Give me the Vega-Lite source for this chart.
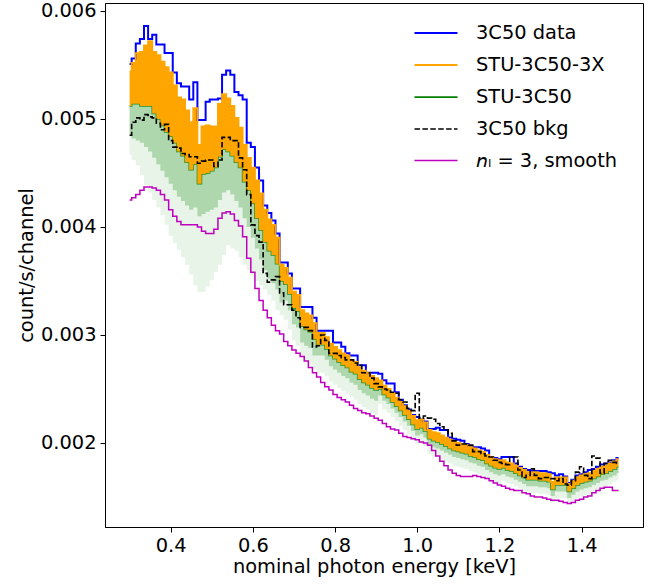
{
"$schema":"https://vega.github.io/schema/vega-lite/v6.json",
"width":538,"height":524,
"autosize":{"type":"none"},
"padding":{"left":105,"top":3,"right":14,"bottom":57},
"config":{"font":"DejaVu Sans","view":{"stroke":"#000000","strokeWidth":1},
"axis":{"labelFont":"DejaVu Sans","titleFont":"DejaVu Sans","labelFontSize":19.4,"titleFontSize":19.4,"labelColor":"#000","titleColor":"#000","titleFontWeight":"normal","tickColor":"#000","domainColor":"#000","tickSize":5,"labelPadding":4,"grid":false,"domainWidth":1,"tickWidth":1}},
"data":{"values":[
{"E":0.30,"data":0.00551,"stu3x_hi":0.00544,"stu3x_lo":0.00512,"stu_mid":0.00485,"stu_lo":0.00467,"bkg":0.00485,"smooth":0.00425},
{"E":0.31,"data":0.00556,"stu3x_hi":0.00552,"stu3x_lo":0.00514,"stu_mid":0.00482,"stu_lo":0.00462,"bkg":0.00497,"smooth":0.00427},
{"E":0.32,"data":0.00570,"stu3x_hi":0.00561,"stu3x_lo":0.00514,"stu_mid":0.00480,"stu_lo":0.00457,"bkg":0.00501,"smooth":0.00430},
{"E":0.33,"data":0.00574,"stu3x_hi":0.00562,"stu3x_lo":0.00512,"stu_mid":0.00478,"stu_lo":0.00448,"bkg":0.00499,"smooth":0.00434},
{"E":0.34,"data":0.00586,"stu3x_hi":0.00568,"stu3x_lo":0.00512,"stu_mid":0.00474,"stu_lo":0.00439,"bkg":0.00504,"smooth":0.00437},
{"E":0.35,"data":0.00574,"stu3x_hi":0.00572,"stu3x_lo":0.00512,"stu_mid":0.00470,"stu_lo":0.00432,"bkg":0.00502,"smooth":0.00437},
{"E":0.36,"data":0.00578,"stu3x_hi":0.00562,"stu3x_lo":0.00505,"stu_mid":0.00464,"stu_lo":0.00425,"bkg":0.00501,"smooth":0.00436},
{"E":0.37,"data":0.00569,"stu3x_hi":0.00559,"stu3x_lo":0.00500,"stu_mid":0.00458,"stu_lo":0.00418,"bkg":0.00496,"smooth":0.00434},
{"E":0.38,"data":0.00569,"stu3x_hi":0.00553,"stu3x_lo":0.00494,"stu_mid":0.00452,"stu_lo":0.00411,"bkg":0.00490,"smooth":0.00430},
{"E":0.39,"data":0.00561,"stu3x_hi":0.00548,"stu3x_lo":0.00488,"stu_mid":0.00446,"stu_lo":0.00402,"bkg":0.00495,"smooth":0.00425},
{"E":0.40,"data":0.00561,"stu3x_hi":0.00543,"stu3x_lo":0.00484,"stu_mid":0.00440,"stu_lo":0.00392,"bkg":0.00480,"smooth":0.00416},
{"E":0.41,"data":0.00543,"stu3x_hi":0.00531,"stu3x_lo":0.00478,"stu_mid":0.00434,"stu_lo":0.00385,"bkg":0.00474,"smooth":0.00410},
{"E":0.42,"data":0.00533,"stu3x_hi":0.00520,"stu3x_lo":0.00470,"stu_mid":0.00428,"stu_lo":0.00379,"bkg":0.00473,"smooth":0.00405},
{"E":0.43,"data":0.00530,"stu3x_hi":0.00518,"stu3x_lo":0.00466,"stu_mid":0.00424,"stu_lo":0.00372,"bkg":0.00468,"smooth":0.00402},
{"E":0.44,"data":0.00530,"stu3x_hi":0.00508,"stu3x_lo":0.00460,"stu_mid":0.00420,"stu_lo":0.00365,"bkg":0.00467,"smooth":0.00402},
{"E":0.45,"data":0.00518,"stu3x_hi":0.00497,"stu3x_lo":0.00453,"stu_mid":0.00416,"stu_lo":0.00356,"bkg":0.00465,"smooth":0.00402},
{"E":0.46,"data":0.00534,"stu3x_hi":0.00510,"stu3x_lo":0.00458,"stu_mid":0.00418,"stu_lo":0.00346,"bkg":0.00465,"smooth":0.00402},
{"E":0.47,"data":0.00499,"stu3x_hi":0.00476,"stu3x_lo":0.00440,"stu_mid":0.00410,"stu_lo":0.00340,"bkg":0.00459,"smooth":0.00400},
{"E":0.48,"data":0.00499,"stu3x_hi":0.00493,"stu3x_lo":0.00449,"stu_mid":0.00412,"stu_lo":0.00340,"bkg":0.00461,"smooth":0.00396},
{"E":0.49,"data":0.00516,"stu3x_hi":0.00494,"stu3x_lo":0.00450,"stu_mid":0.00414,"stu_lo":0.00345,"bkg":0.00462,"smooth":0.00394},
{"E":0.50,"data":0.00518,"stu3x_hi":0.00493,"stu3x_lo":0.00452,"stu_mid":0.00416,"stu_lo":0.00351,"bkg":0.00462,"smooth":0.00394},
{"E":0.51,"data":0.00518,"stu3x_hi":0.00493,"stu3x_lo":0.00455,"stu_mid":0.00418,"stu_lo":0.00358,"bkg":0.00456,"smooth":0.00398},
{"E":0.52,"data":0.00519,"stu3x_hi":0.00514,"stu3x_lo":0.00465,"stu_mid":0.00425,"stu_lo":0.00365,"bkg":0.00462,"smooth":0.00408},
{"E":0.53,"data":0.00541,"stu3x_hi":0.00523,"stu3x_lo":0.00472,"stu_mid":0.00432,"stu_lo":0.00374,"bkg":0.00483,"smooth":0.00413},
{"E":0.54,"data":0.00545,"stu3x_hi":0.00519,"stu3x_lo":0.00470,"stu_mid":0.00434,"stu_lo":0.00383,"bkg":0.00483,"smooth":0.00414},
{"E":0.55,"data":0.00541,"stu3x_hi":0.00512,"stu3x_lo":0.00466,"stu_mid":0.00430,"stu_lo":0.00380,"bkg":0.00480,"smooth":0.00412},
{"E":0.56,"data":0.00525,"stu3x_hi":0.00501,"stu3x_lo":0.00460,"stu_mid":0.00424,"stu_lo":0.00378,"bkg":0.00480,"smooth":0.00406},
{"E":0.57,"data":0.00522,"stu3x_hi":0.00492,"stu3x_lo":0.00455,"stu_mid":0.00418,"stu_lo":0.00372,"bkg":0.00464,"smooth":0.00401},
{"E":0.58,"data":0.00518,"stu3x_hi":0.00476,"stu3x_lo":0.00442,"stu_mid":0.00408,"stu_lo":0.00365,"bkg":0.00453,"smooth":0.00391},
{"E":0.59,"data":0.00478,"stu3x_hi":0.00464,"stu3x_lo":0.00434,"stu_mid":0.00400,"stu_lo":0.00360,"bkg":0.00430,"smooth":0.00371},
{"E":0.60,"data":0.00474,"stu3x_hi":0.00455,"stu3x_lo":0.00422,"stu_mid":0.00390,"stu_lo":0.00355,"bkg":0.00402,"smooth":0.00358},
{"E":0.61,"data":0.00455,"stu3x_hi":0.00443,"stu3x_lo":0.00408,"stu_mid":0.00380,"stu_lo":0.00350,"bkg":0.00392,"smooth":0.00343},
{"E":0.62,"data":0.00443,"stu3x_hi":0.00431,"stu3x_lo":0.00397,"stu_mid":0.00370,"stu_lo":0.00346,"bkg":0.00386,"smooth":0.00332},
{"E":0.63,"data":0.00420,"stu3x_hi":0.00416,"stu3x_lo":0.00386,"stu_mid":0.00360,"stu_lo":0.00342,"bkg":0.00357,"smooth":0.00323},
{"E":0.64,"data":0.00413,"stu3x_hi":0.00407,"stu3x_lo":0.00378,"stu_mid":0.00352,"stu_lo":0.00337,"bkg":0.00349,"smooth":0.00316},
{"E":0.65,"data":0.00406,"stu3x_hi":0.00402,"stu3x_lo":0.00374,"stu_mid":0.00348,"stu_lo":0.00332,"bkg":0.00351,"smooth":0.00309},
{"E":0.66,"data":0.00394,"stu3x_hi":0.00390,"stu3x_lo":0.00366,"stu_mid":0.00342,"stu_lo":0.00323,"bkg":0.00354,"smooth":0.00304},
{"E":0.67,"data":0.00367,"stu3x_hi":0.00365,"stu3x_lo":0.00350,"stu_mid":0.00330,"stu_lo":0.00318,"bkg":0.00339,"smooth":0.00301},
{"E":0.68,"data":0.00367,"stu3x_hi":0.00362,"stu3x_lo":0.00347,"stu_mid":0.00332,"stu_lo":0.00314,"bkg":0.00328,"smooth":0.00294},
{"E":0.69,"data":0.00357,"stu3x_hi":0.00353,"stu3x_lo":0.00338,"stu_mid":0.00323,"stu_lo":0.00305,"bkg":0.00328,"smooth":0.00290},
{"E":0.70,"data":0.00343,"stu3x_hi":0.00340,"stu3x_lo":0.00325,"stu_mid":0.00310,"stu_lo":0.00295,"bkg":0.00323,"smooth":0.00286},
{"E":0.71,"data":0.00343,"stu3x_hi":0.00337,"stu3x_lo":0.00322,"stu_mid":0.00307,"stu_lo":0.00290,"bkg":0.00316,"smooth":0.00283},
{"E":0.72,"data":0.00326,"stu3x_hi":0.00323,"stu3x_lo":0.00308,"stu_mid":0.00293,"stu_lo":0.00280,"bkg":0.00307,"smooth":0.00280},
{"E":0.73,"data":0.00326,"stu3x_hi":0.00320,"stu3x_lo":0.00305,"stu_mid":0.00290,"stu_lo":0.00276,"bkg":0.00307,"smooth":0.00276},
{"E":0.74,"data":0.00326,"stu3x_hi":0.00318,"stu3x_lo":0.00303,"stu_mid":0.00288,"stu_lo":0.00273,"bkg":0.00304,"smooth":0.00270},
{"E":0.75,"data":0.00316,"stu3x_hi":0.00311,"stu3x_lo":0.00296,"stu_mid":0.00281,"stu_lo":0.00268,"bkg":0.00289,"smooth":0.00265},
{"E":0.76,"data":0.00304,"stu3x_hi":0.00302,"stu3x_lo":0.00291,"stu_mid":0.00281,"stu_lo":0.00266,"bkg":0.00290,"smooth":0.00261},
{"E":0.77,"data":0.00304,"stu3x_hi":0.00302,"stu3x_lo":0.00291,"stu_mid":0.00281,"stu_lo":0.00265,"bkg":0.00300,"smooth":0.00256},
{"E":0.78,"data":0.00304,"stu3x_hi":0.00298,"stu3x_lo":0.00287,"stu_mid":0.00277,"stu_lo":0.00262,"bkg":0.00295,"smooth":0.00252},
{"E":0.79,"data":0.00304,"stu3x_hi":0.00292,"stu3x_lo":0.00281,"stu_mid":0.00271,"stu_lo":0.00257,"bkg":0.00283,"smooth":0.00249},
{"E":0.80,"data":0.00293,"stu3x_hi":0.00289,"stu3x_lo":0.00278,"stu_mid":0.00268,"stu_lo":0.00254,"bkg":0.00283,"smooth":0.00245},
{"E":0.81,"data":0.00293,"stu3x_hi":0.00286,"stu3x_lo":0.00275,"stu_mid":0.00265,"stu_lo":0.00251,"bkg":0.00281,"smooth":0.00242},
{"E":0.82,"data":0.00289,"stu3x_hi":0.00283,"stu3x_lo":0.00272,"stu_mid":0.00262,"stu_lo":0.00248,"bkg":0.00279,"smooth":0.00240},
{"E":0.83,"data":0.00283,"stu3x_hi":0.00281,"stu3x_lo":0.00270,"stu_mid":0.00260,"stu_lo":0.00246,"bkg":0.00277,"smooth":0.00238},
{"E":0.84,"data":0.00281,"stu3x_hi":0.00277,"stu3x_lo":0.00266,"stu_mid":0.00256,"stu_lo":0.00243,"bkg":0.00277,"smooth":0.00235},
{"E":0.85,"data":0.00281,"stu3x_hi":0.00275,"stu3x_lo":0.00264,"stu_mid":0.00254,"stu_lo":0.00240,"bkg":0.00274,"smooth":0.00232},
{"E":0.86,"data":0.00272,"stu3x_hi":0.00270,"stu3x_lo":0.00259,"stu_mid":0.00249,"stu_lo":0.00236,"bkg":0.00272,"smooth":0.00230},
{"E":0.87,"data":0.00272,"stu3x_hi":0.00267,"stu3x_lo":0.00256,"stu_mid":0.00246,"stu_lo":0.00233,"bkg":0.00265,"smooth":0.00228},
{"E":0.88,"data":0.00265,"stu3x_hi":0.00265,"stu3x_lo":0.00254,"stu_mid":0.00244,"stu_lo":0.00231,"bkg":0.00265,"smooth":0.00227},
{"E":0.89,"data":0.00265,"stu3x_hi":0.00262,"stu3x_lo":0.00251,"stu_mid":0.00241,"stu_lo":0.00228,"bkg":0.00260,"smooth":0.00225},
{"E":0.90,"data":0.00265,"stu3x_hi":0.00260,"stu3x_lo":0.00249,"stu_mid":0.00239,"stu_lo":0.00226,"bkg":0.00255,"smooth":0.00223},
{"E":0.91,"data":0.00264,"stu3x_hi":0.00258,"stu3x_lo":0.00250,"stu_mid":0.00244,"stu_lo":0.00236,"bkg":0.00252,"smooth":0.00221},
{"E":0.92,"data":0.00258,"stu3x_hi":0.00253,"stu3x_lo":0.00245,"stu_mid":0.00239,"stu_lo":0.00231,"bkg":0.00250,"smooth":0.00218},
{"E":0.93,"data":0.00255,"stu3x_hi":0.00250,"stu3x_lo":0.00242,"stu_mid":0.00236,"stu_lo":0.00228,"bkg":0.00249,"smooth":0.00215},
{"E":0.94,"data":0.00255,"stu3x_hi":0.00246,"stu3x_lo":0.00238,"stu_mid":0.00232,"stu_lo":0.00224,"bkg":0.00247,"smooth":0.00213},
{"E":0.95,"data":0.00247,"stu3x_hi":0.00242,"stu3x_lo":0.00234,"stu_mid":0.00228,"stu_lo":0.00220,"bkg":0.00246,"smooth":0.00212},
{"E":0.96,"data":0.00240,"stu3x_hi":0.00238,"stu3x_lo":0.00230,"stu_mid":0.00224,"stu_lo":0.00216,"bkg":0.00240,"smooth":0.00209},
{"E":0.97,"data":0.00235,"stu3x_hi":0.00234,"stu3x_lo":0.00226,"stu_mid":0.00220,"stu_lo":0.00212,"bkg":0.00238,"smooth":0.00206},
{"E":0.98,"data":0.00231,"stu3x_hi":0.00230,"stu3x_lo":0.00222,"stu_mid":0.00216,"stu_lo":0.00208,"bkg":0.00232,"smooth":0.00205},
{"E":0.99,"data":0.00226,"stu3x_hi":0.00225,"stu3x_lo":0.00217,"stu_mid":0.00211,"stu_lo":0.00203,"bkg":0.00230,"smooth":0.00204},
{"E":1.00,"data":0.00224,"stu3x_hi":0.00221,"stu3x_lo":0.00213,"stu_mid":0.00207,"stu_lo":0.00199,"bkg":0.00246,"smooth":0.00203},
{"E":1.01,"data":0.00222,"stu3x_hi":0.00222,"stu3x_lo":0.00214,"stu_mid":0.00208,"stu_lo":0.00200,"bkg":0.00223,"smooth":0.00201},
{"E":1.02,"data":0.00220,"stu3x_hi":0.00219,"stu3x_lo":0.00211,"stu_mid":0.00205,"stu_lo":0.00197,"bkg":0.00225,"smooth":0.00200},
{"E":1.03,"data":0.00213,"stu3x_hi":0.00212,"stu3x_lo":0.00204,"stu_mid":0.00198,"stu_lo":0.00190,"bkg":0.00223,"smooth":0.00198},
{"E":1.04,"data":0.00213,"stu3x_hi":0.00210,"stu3x_lo":0.00202,"stu_mid":0.00196,"stu_lo":0.00188,"bkg":0.00222,"smooth":0.00193},
{"E":1.05,"data":0.00214,"stu3x_hi":0.00209,"stu3x_lo":0.00201,"stu_mid":0.00195,"stu_lo":0.00187,"bkg":0.00218,"smooth":0.00188},
{"E":1.06,"data":0.00212,"stu3x_hi":0.00207,"stu3x_lo":0.00199,"stu_mid":0.00193,"stu_lo":0.00185,"bkg":0.00215,"smooth":0.00183},
{"E":1.07,"data":0.00212,"stu3x_hi":0.00205,"stu3x_lo":0.00197,"stu_mid":0.00191,"stu_lo":0.00183,"bkg":0.00212,"smooth":0.00179},
{"E":1.08,"data":0.00205,"stu3x_hi":0.00203,"stu3x_lo":0.00195,"stu_mid":0.00189,"stu_lo":0.00181,"bkg":0.00209,"smooth":0.00175},
{"E":1.09,"data":0.00204,"stu3x_hi":0.00201,"stu3x_lo":0.00193,"stu_mid":0.00187,"stu_lo":0.00179,"bkg":0.00202,"smooth":0.00172},
{"E":1.10,"data":0.00203,"stu3x_hi":0.00200,"stu3x_lo":0.00192,"stu_mid":0.00186,"stu_lo":0.00178,"bkg":0.00198,"smooth":0.00170},
{"E":1.11,"data":0.00202,"stu3x_hi":0.00199,"stu3x_lo":0.00191,"stu_mid":0.00185,"stu_lo":0.00177,"bkg":0.00199,"smooth":0.00169},
{"E":1.12,"data":0.00199,"stu3x_hi":0.00198,"stu3x_lo":0.00190,"stu_mid":0.00184,"stu_lo":0.00176,"bkg":0.00199,"smooth":0.00169},
{"E":1.13,"data":0.00197,"stu3x_hi":0.00196,"stu3x_lo":0.00188,"stu_mid":0.00182,"stu_lo":0.00174,"bkg":0.00198,"smooth":0.00169},
{"E":1.14,"data":0.00196,"stu3x_hi":0.00195,"stu3x_lo":0.00187,"stu_mid":0.00181,"stu_lo":0.00173,"bkg":0.00192,"smooth":0.00170},
{"E":1.15,"data":0.00196,"stu3x_hi":0.00193,"stu3x_lo":0.00185,"stu_mid":0.00179,"stu_lo":0.00171,"bkg":0.00192,"smooth":0.00169},
{"E":1.16,"data":0.00195,"stu3x_hi":0.00192,"stu3x_lo":0.00184,"stu_mid":0.00178,"stu_lo":0.00170,"bkg":0.00190,"smooth":0.00168},
{"E":1.17,"data":0.00193,"stu3x_hi":0.00189,"stu3x_lo":0.00181,"stu_mid":0.00175,"stu_lo":0.00167,"bkg":0.00188,"smooth":0.00167},
{"E":1.18,"data":0.00187,"stu3x_hi":0.00187,"stu3x_lo":0.00179,"stu_mid":0.00173,"stu_lo":0.00165,"bkg":0.00187,"smooth":0.00165},
{"E":1.19,"data":0.00186,"stu3x_hi":0.00185,"stu3x_lo":0.00177,"stu_mid":0.00171,"stu_lo":0.00163,"bkg":0.00184,"smooth":0.00163},
{"E":1.20,"data":0.00185,"stu3x_hi":0.00184,"stu3x_lo":0.00176,"stu_mid":0.00170,"stu_lo":0.00162,"bkg":0.00182,"smooth":0.00161},
{"E":1.21,"data":0.00187,"stu3x_hi":0.00184,"stu3x_lo":0.00177,"stu_mid":0.00171,"stu_lo":0.00165,"bkg":0.00181,"smooth":0.00160},
{"E":1.22,"data":0.00187,"stu3x_hi":0.00182,"stu3x_lo":0.00175,"stu_mid":0.00169,"stu_lo":0.00163,"bkg":0.00180,"smooth":0.00158},
{"E":1.23,"data":0.00187,"stu3x_hi":0.00181,"stu3x_lo":0.00174,"stu_mid":0.00168,"stu_lo":0.00162,"bkg":0.00187,"smooth":0.00157},
{"E":1.24,"data":0.00181,"stu3x_hi":0.00179,"stu3x_lo":0.00172,"stu_mid":0.00166,"stu_lo":0.00160,"bkg":0.00187,"smooth":0.00156},
{"E":1.25,"data":0.00178,"stu3x_hi":0.00177,"stu3x_lo":0.00170,"stu_mid":0.00164,"stu_lo":0.00158,"bkg":0.00175,"smooth":0.00156},
{"E":1.26,"data":0.00176,"stu3x_hi":0.00175,"stu3x_lo":0.00168,"stu_mid":0.00162,"stu_lo":0.00156,"bkg":0.00168,"smooth":0.00154},
{"E":1.27,"data":0.00175,"stu3x_hi":0.00173,"stu3x_lo":0.00166,"stu_mid":0.00160,"stu_lo":0.00154,"bkg":0.00170,"smooth":0.00153},
{"E":1.28,"data":0.00174,"stu3x_hi":0.00173,"stu3x_lo":0.00166,"stu_mid":0.00160,"stu_lo":0.00154,"bkg":0.00176,"smooth":0.00151},
{"E":1.29,"data":0.00174,"stu3x_hi":0.00173,"stu3x_lo":0.00166,"stu_mid":0.00160,"stu_lo":0.00154,"bkg":0.00170,"smooth":0.00150},
{"E":1.30,"data":0.00174,"stu3x_hi":0.00172,"stu3x_lo":0.00165,"stu_mid":0.00159,"stu_lo":0.00153,"bkg":0.00167,"smooth":0.00150},
{"E":1.31,"data":0.00174,"stu3x_hi":0.00172,"stu3x_lo":0.00165,"stu_mid":0.00159,"stu_lo":0.00153,"bkg":0.00168,"smooth":0.00149},
{"E":1.32,"data":0.00173,"stu3x_hi":0.00171,"stu3x_lo":0.00164,"stu_mid":0.00158,"stu_lo":0.00152,"bkg":0.00168,"smooth":0.00148},
{"E":1.33,"data":0.00172,"stu3x_hi":0.00164,"stu3x_lo":0.00157,"stu_mid":0.00151,"stu_lo":0.00145,"bkg":0.00167,"smooth":0.00147},
{"E":1.34,"data":0.00170,"stu3x_hi":0.00168,"stu3x_lo":0.00161,"stu_mid":0.00155,"stu_lo":0.00149,"bkg":0.00165,"smooth":0.00147},
{"E":1.35,"data":0.00171,"stu3x_hi":0.00168,"stu3x_lo":0.00161,"stu_mid":0.00155,"stu_lo":0.00149,"bkg":0.00167,"smooth":0.00146},
{"E":1.36,"data":0.00169,"stu3x_hi":0.00168,"stu3x_lo":0.00161,"stu_mid":0.00155,"stu_lo":0.00149,"bkg":0.00162,"smooth":0.00145},
{"E":1.37,"data":0.00163,"stu3x_hi":0.00162,"stu3x_lo":0.00155,"stu_mid":0.00149,"stu_lo":0.00143,"bkg":0.00161,"smooth":0.00144},
{"E":1.38,"data":0.00166,"stu3x_hi":0.00165,"stu3x_lo":0.00158,"stu_mid":0.00152,"stu_lo":0.00146,"bkg":0.00165,"smooth":0.00145},
{"E":1.39,"data":0.00170,"stu3x_hi":0.00168,"stu3x_lo":0.00161,"stu_mid":0.00155,"stu_lo":0.00149,"bkg":0.00173,"smooth":0.00147},
{"E":1.40,"data":0.00171,"stu3x_hi":0.00170,"stu3x_lo":0.00163,"stu_mid":0.00157,"stu_lo":0.00151,"bkg":0.00178,"smooth":0.00148},
{"E":1.41,"data":0.00173,"stu3x_hi":0.00171,"stu3x_lo":0.00164,"stu_mid":0.00158,"stu_lo":0.00152,"bkg":0.00170,"smooth":0.00150},
{"E":1.42,"data":0.00175,"stu3x_hi":0.00172,"stu3x_lo":0.00165,"stu_mid":0.00159,"stu_lo":0.00153,"bkg":0.00167,"smooth":0.00151},
{"E":1.43,"data":0.00176,"stu3x_hi":0.00174,"stu3x_lo":0.00167,"stu_mid":0.00161,"stu_lo":0.00155,"bkg":0.00188,"smooth":0.00154},
{"E":1.44,"data":0.00178,"stu3x_hi":0.00176,"stu3x_lo":0.00169,"stu_mid":0.00163,"stu_lo":0.00157,"bkg":0.00186,"smooth":0.00156},
{"E":1.45,"data":0.00180,"stu3x_hi":0.00178,"stu3x_lo":0.00171,"stu_mid":0.00165,"stu_lo":0.00159,"bkg":0.00172,"smooth":0.00158},
{"E":1.46,"data":0.00181,"stu3x_hi":0.00179,"stu3x_lo":0.00172,"stu_mid":0.00166,"stu_lo":0.00160,"bkg":0.00181,"smooth":0.00159},
{"E":1.47,"data":0.00182,"stu3x_hi":0.00181,"stu3x_lo":0.00174,"stu_mid":0.00168,"stu_lo":0.00162,"bkg":0.00184,"smooth":0.00159},
{"E":1.48,"data":0.00184,"stu3x_hi":0.00183,"stu3x_lo":0.00176,"stu_mid":0.00170,"stu_lo":0.00164,"bkg":0.00182,"smooth":0.00156},
{"E":1.49,"data":0.00186,"stu3x_hi":0.00185,"stu3x_lo":0.00178,"stu_mid":0.00172,"stu_lo":0.00166,"bkg":0.00181,"smooth":0.00156}
]},
"encoding":{"x":{"field":"E","type":"quantitative","scale":{"domain":[0.2401,1.5495],"nice":false,"zero":false},
"axis":{"title":"nominal photon energy [keV]","values":[0.4,0.6,0.8,1.0,1.2,1.4],"format":".1f","labelFlush":false,"labelOverlap":false,"titlePadding":3}}},
"layer":[
{"mark":{"type":"area","interpolate":"step","color":"#008000","opacity":0.09},
 "encoding":{"y":{"field":"stu_lo","type":"quantitative","scale":{"domain":[0.001222,0.006074],"nice":false,"zero":false},
 "axis":{"title":"count/s/channel","values":[0.002,0.003,0.004,0.005,0.006],"format":".3f","titlePadding":4}},
 "y2":{"field":"stu3x_lo"}}},
{"mark":{"type":"area","interpolate":"step","color":"#008000","opacity":0.25},
 "encoding":{"y":{"field":"stu_mid","type":"quantitative","scale":{"domain":[0.001222,0.006074],"nice":false,"zero":false},
 "axis":{"title":"count/s/channel","values":[0.002,0.003,0.004,0.005,0.006],"format":".3f","titlePadding":4}},"y2":{"field":"stu3x_lo"}}},
{"mark":{"type":"line","interpolate":"step","color":"#008000","strokeWidth":1.5,"opacity":0.8},
 "encoding":{"y":{"field":"stu3x_lo","type":"quantitative","scale":{"domain":[0.001222,0.006074],"nice":false,"zero":false},
 "axis":{"title":"count/s/channel","values":[0.002,0.003,0.004,0.005,0.006],"format":".3f","titlePadding":4}}}},
{"mark":{"type":"area","interpolate":"step","color":"#FFA500","opacity":1},
 "encoding":{"y":{"field":"stu3x_lo","type":"quantitative","scale":{"domain":[0.001222,0.006074],"nice":false,"zero":false},
 "axis":{"title":"count/s/channel","values":[0.002,0.003,0.004,0.005,0.006],"format":".3f","titlePadding":4}},"y2":{"field":"stu3x_hi"}}},
{"transform":[{"fold":["data","stu3x_hi","bkg","smooth"],"as":["key","val"]}],
 "mark":{"type":"line","interpolate":"step"},
 "encoding":{
  "y":{"field":"val","type":"quantitative","scale":{"domain":[0.001222,0.006074],"nice":false,"zero":false},
  "axis":{"title":"count/s/channel","values":[0.002,0.003,0.004,0.005,0.006],"format":".3f","titlePadding":4}},
  "color":{"field":"key","type":"nominal","scale":{"domain":["data","stu3x_hi","stu3x_lo","bkg","smooth"],"range":["#0000FF","#FFA500","#008000","#000000","#BF00BF"]},
   "legend":{"title":null,"orient":"none","legendX":319,"legendY":18,"symbolType":"M-2,0H2","symbolSize":462,"labelFontSize":19.4,"labelFont":"DejaVu Sans","labelColor":"#000","labelOffset":28,"rowPadding":10,"labelLimit":400,"padding":0,
   "labelExpr":"datum.label == 'data' ? '3C50 data' : datum.label == 'stu3x_hi' ? 'STU-3C50-3X' : datum.label == 'stu3x_lo' ? 'STU-3C50' : datum.label == 'bkg' ? '3C50 bkg' : '𝘯ₗ = 3, smooth'"}},
  "strokeDash":{"field":"key","type":"nominal","scale":{"domain":["data","stu3x_hi","stu3x_lo","bkg","smooth"],"range":[[1,0],[1,0],[1,0],[5.5,2.4],[1,0]]}},
  "strokeWidth":{"field":"key","type":"nominal","scale":{"domain":["data","stu3x_hi","stu3x_lo","bkg","smooth"],"range":[2,1.5,1.5,1.8,1.7]}}
 }}
]
}
